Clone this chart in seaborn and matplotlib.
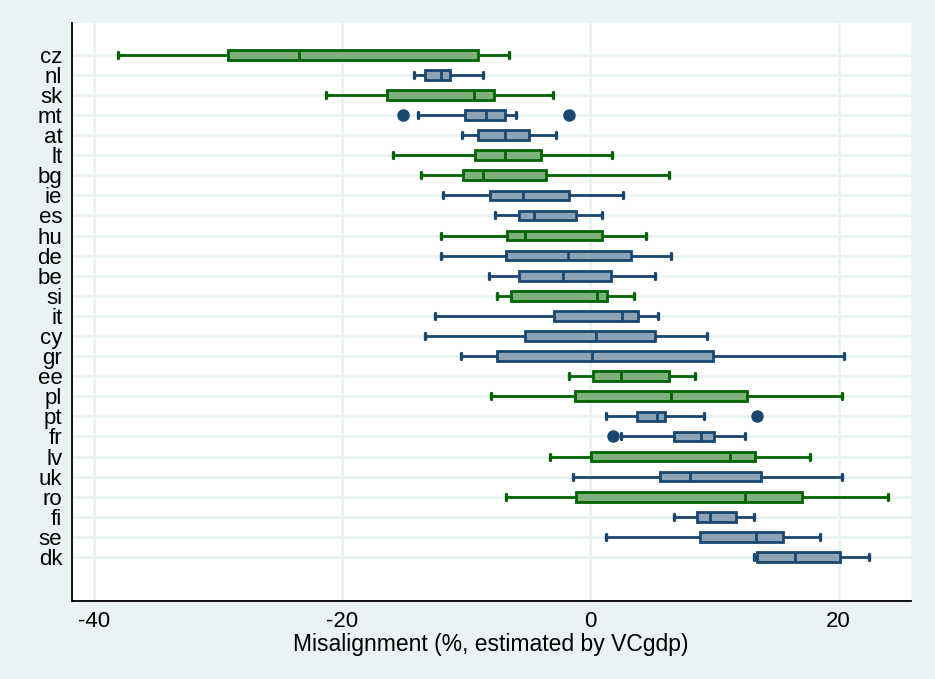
import numpy as np
import pandas as pd
import matplotlib
matplotlib.use("Agg")
import matplotlib.pyplot as plt
import seaborn as sns

# Country codes, top to bottom
countries = ["cz", "nl", "sk", "mt", "at", "lt", "bg", "ie", "es", "hu", "de", "be", "si",
             "it", "cy", "gr", "ee", "pl", "pt", "fr", "lv", "uk", "ro", "fi", "se", "dk"]

# Country group (drawn in green vs. navy)
group = ["g", "b", "g", "b", "b", "g", "g", "b", "b", "g", "b", "b", "g",
         "b", "b", "b", "g", "g", "b", "b", "g", "b", "g", "b", "b", "b"]

# Box-plot summary statistics of misalignment (%)
whisker_lo = [-38.1, -14.25, -21.3, -13.87, -10.38, -15.9, -13.7, -11.85, -7.69, -12.02, -12.02, -8.2, -7.55,
              -12.53, -13.36, -10.4, -1.75, -7.98, 1.24, 2.45, -3.25, -1.37, -6.8, 6.75, 1.29, 13.2]
q1 = [-29.2, -13.33, -16.4, -10.13, -9.03, -9.27, -10.3, -8.12, -5.78, -6.77, -6.83, -5.75, -6.37,
      -2.96, -5.27, -7.5, 0.19, -1.26, 3.76, 6.72, 0.08, 5.59, -1.18, 8.6, 8.84, 13.44]
median = [-23.5, -12.07, -9.41, -8.39, -6.88, -6.88, -8.66, -5.46, -4.52, -5.24, -1.85, -2.2, 0.56,
          2.55, 0.43, 0.16, 2.45, 6.5, 5.38, 8.95, 11.24, 8.06, 12.47, 9.6, 13.36, 16.51]
q3 = [-9.03, -11.35, -7.8, -6.91, -4.92, -3.95, -3.57, -1.77, -1.13, 0.89, 3.28, 1.69, 1.37,
      3.87, 5.21, 9.89, 6.35, 12.58, 5.97, 9.92, 13.25, 13.76, 17.02, 11.75, 15.51, 20.1]
whisker_hi = [-6.59, -8.66, -3.06, -5.99, -2.74, 1.72, 6.32, 2.63, 0.94, 4.44, 6.5, 5.24, 3.47,
              5.43, 9.41, 20.4, 8.41, 20.27, 9.14, 12.45, 17.66, 20.27, 23.98, 13.15, 18.52, 22.44]

# Outlying observations
outlier_country = ["mt", "mt", "pt", "fr"]
outlier_value = [-15.1, -1.75, 13.44, 1.8]

xticks = [-40, -20, 0, 20]
xlabel = "Misalignment (%, estimated by VCgdp)"

BG = "#eaf2f3"
NAVY = "#1a476f"
NAVY_FILL = "#8ca3b7"
GREEN = "#006400"
GREEN_FILL = "#7fb17f"
BOX_WIDTH = 0.48
CAP_SPAN = 0.3

sns.set_style("white")
plt.rcParams["font.family"] = ["Liberation Sans", "DejaVu Sans"]
plt.rcParams["text.color"] = "black"
plt.rcParams["xtick.color"] = "black"
plt.rcParams["ytick.color"] = "black"
plt.rcParams["axes.labelcolor"] = "black"

# Five summary points per country; with whiskers at the 0th/100th percentiles
# the quartiles of these points are exactly q1 / median / q3.
rows = []
for i, c in enumerate(countries):
    for v in (whisker_lo[i], q1[i], median[i], q3[i], whisker_hi[i]):
        rows.append({"country": c, "group": group[i], "value": v})
df = pd.DataFrame(rows)
out = pd.DataFrame({"country": outlier_country, "value": outlier_value})

fig = plt.figure(figsize=(9.35, 6.79), dpi=100, facecolor=BG)
ax = fig.add_axes([0.077, 0.1149, 0.8968, 0.8512])
ax.set_facecolor("white")

for g, fill, edge in [("g", GREEN_FILL, GREEN), ("b", NAVY_FILL, NAVY)]:
    sns.boxplot(data=df[df["group"] == g], x="value", y="country", order=countries,
                orient="h", whis=(0, 100), width=BOX_WIDTH, color=fill, linecolor=edge,
                linewidth=2, saturation=1, showfliers=False, ax=ax, zorder=3)

# Slightly longer whisker caps
for ln in ax.lines:
    xd = np.asarray(ln.get_xdata(), dtype=float)
    yd = np.asarray(ln.get_ydata(), dtype=float)
    if len(xd) == 2 and xd[0] == xd[1]:
        span = abs(yd[1] - yd[0])
        if 0 < span < BOX_WIDTH * 0.9:
            mid = yd.mean()
            ln.set_ydata([mid - CAP_SPAN / 2, mid + CAP_SPAN / 2])
            ln.set_linewidth(2.4)

sns.stripplot(data=out, x="value", y="country", order=countries, orient="h",
              jitter=False, color=NAVY, size=9, linewidth=0, ax=ax, zorder=4)

ax.set_xlim(-41.8, 25.8)
ax.set_ylim(27.19, -1.58)
ax.set_xticks(xticks)
ax.set_xticklabels([str(t) for t in xticks])
ax.set_yticks(range(len(countries)))
ax.set_yticklabels(countries)

ax.grid(True, color=BG, linewidth=2)
ax.set_axisbelow(True)
for s in ("top", "right"):
    ax.spines[s].set_visible(False)
for s in ("left", "bottom"):
    ax.spines[s].set_color("black")
    ax.spines[s].set_linewidth(1.3)

ax.tick_params(axis="y", length=0, pad=7, labelsize=16)
ax.tick_params(axis="x", length=6, width=1.2, color="black", pad=1, labelsize=16)
ax.set_xlabel(xlabel, fontsize=16.5, labelpad=1)
ax.set_ylabel("")

fig.savefig("out.png", dpi=100, facecolor=BG)
